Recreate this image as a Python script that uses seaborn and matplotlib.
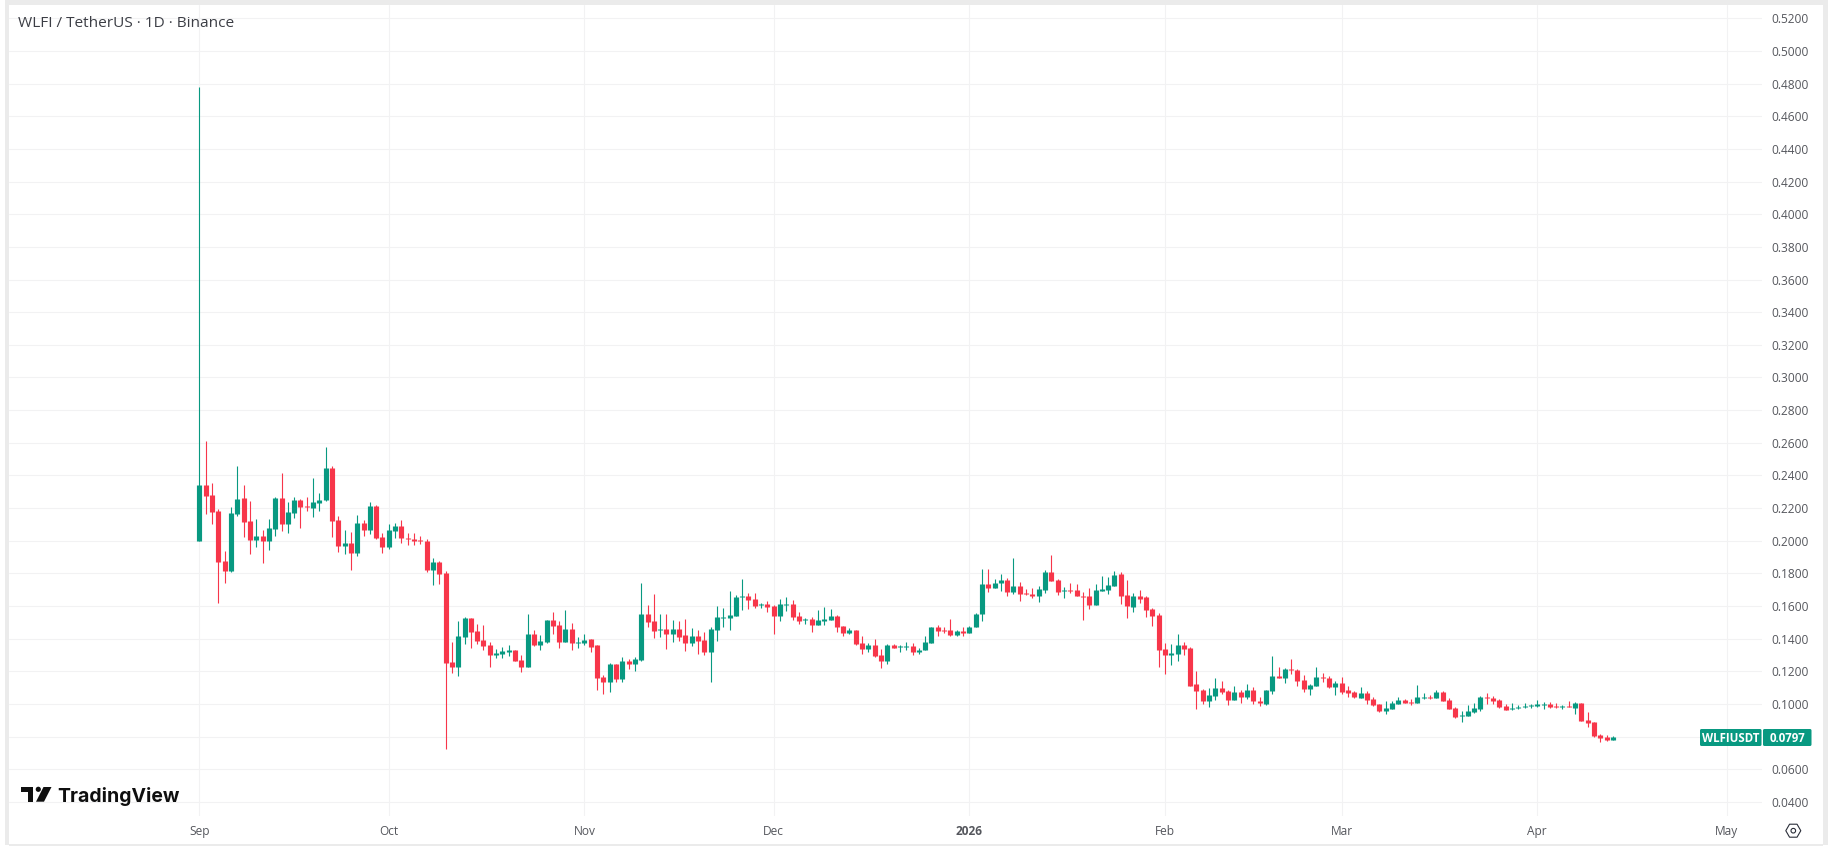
import pandas as pd
import seaborn as sns
import matplotlib.pyplot as plt
import matplotlib.dates as mdates
from matplotlib.patches import Rectangle, Polygon, Circle, FancyBboxPatch, RegularPolygon

W, H = 1831, 850
UP = '#089981'
DOWN = '#F7364A'
GRID = '#F2F2F3'
TEXT = '#55575D'
FRAME = '#EBEBEB'

# daily candles, starts on 1 Sep 2025
opens = [
    .1996, .2339, .2278, .2180, .1874, .1813, .2162, .2260, .2119, .2002,
    .2027, .1996, .2070, .2260, .2100, .2168, .2247, .2211, .2198, .2229,
    .2247, .2443, .2125, .1966, .1984, .1923, .2107, .2064, .2211, .2021,
    .1960, .2058, .2088, .2015, .2009, .2002, .1996, .1819, .1868, .1800,
    .1255, .1225, .1408, .1525, .1445, .1390, .1359, .1298, .1304, .1316,
    .1329, .1267, .1225, .1427, .1359, .1378, .1512, .1482, .1378, .1457,
    .1372, .1372, .1396, .1359, .1163, .1133, .1243, .1151, .1261, .1243,
    .1267, .1549, .1506, .1451, .1457, .1427, .1457, .1420, .1372, .1414,
    .1390, .1316, .1451, .1525, .1525, .1537, .1653, .1659, .1641, .1604,
    .1610, .1598, .1537, .1604, .1610, .1537, .1512, .1518, .1482, .1506,
    .1512, .1537, .1476, .1433, .1451, .1372, .1335, .1359, .1298, .1261,
    .1359, .1347, .1347, .1353, .1316, .1329, .1372, .1469, .1451, .1451,
    .1420, .1445, .1433, .1469, .1549, .1733, .1708, .1739, .1757, .1684,
    .1720, .1678, .1671, .1659, .1696, .1806, .1757, .1690, .1696, .1696,
    .1659, .1659, .1604, .1690, .1696, .1720, .1794, .1665, .1592, .1659,
    .1653, .1580, .1543, .1335, .1298, .1304, .1359, .1341, .1121, .1084,
    .1017, .1047, .1096, .1078, .1023, .1072, .1041, .1084, .1017, .1000,
    .1080, .1172, .1159, .1215, .1208, .1147, .1092, .1110, .1166, .1159,
    .1104, .1129, .1086, .1074, .1037, .1068, .1031, .1000, .0957, .0970,
    .1000, .1025, .1013, .1006, .1037, .1043, .1037, .1074, .1025, .0976,
    .0927, .0927, .0951, .0970, .1043, .1037, .1025, .0988, .0970, .0976,
    .0982, .0988, .0988, .0994, .1000, .0988, .0982, .0988, .0976, .1006,
    .0902, .0890, .0811, .0798, .0780,
]
highs = [
    .4780, .2608, .2351, .2192, .1935, .2204, .2455, .2339, .2241, .2131,
    .2064, .2131, .2266, .2413, .2235, .2266, .2253, .2266, .2382, .2290,
    .2572, .2455, .2149, .2064, .2051, .2155, .2125, .2235, .2217, .2045,
    .2100, .2107, .2125, .2045, .2045, .2027, .2009, .1892, .1874, .1812,
    .1378, .1506, .1531, .1525, .1488, .1482, .1378, .1335, .1347, .1359,
    .1329, .1298, .1549, .1451, .1420, .1512, .1561, .1506, .1573, .1494,
    .1408, .1427, .1396, .1359, .1176, .1249, .1243, .1286, .1274, .1286,
    .1739, .1604, .1671, .1549, .1549, .1512, .1506, .1518, .1463, .1451,
    .1439, .1469, .1598, .1586, .1690, .1665, .1763, .1678, .1678, .1616,
    .1629, .1604, .1641, .1653, .1635, .1561, .1525, .1531, .1573, .1592,
    .1580, .1543, .1476, .1463, .1451, .1414, .1372, .1396, .1335, .1365,
    .1365, .1359, .1378, .1372, .1341, .1414, .1469, .1482, .1469, .1518,
    .1451, .1469, .1476, .1555, .1824, .1824, .1763, .1794, .1769, .1892,
    .1745, .1702, .1708, .1720, .1818, .1910, .1763, .1714, .1739, .1733,
    .1684, .1708, .1733, .1782, .1775, .1812, .1806, .1757, .1678, .1696,
    .1659, .1586, .1555, .1372, .1365, .1427, .1378, .1347, .1200, .1090,
    .1096, .1157, .1139, .1084, .1108, .1084, .1121, .1102, .1041, .1086,
    .1294, .1227, .1221, .1276, .1215, .1178, .1123, .1227, .1190, .1172,
    .1141, .1166, .1110, .1080, .1104, .1080, .1043, .1000, .1019, .1019,
    .1043, .1031, .1031, .1117, .1068, .1055, .1086, .1080, .1037, .0982,
    .0957, .0994, .1006, .1049, .1068, .1049, .1031, .1000, .1006, .0994,
    .1006, .1000, .1025, .1013, .1013, .1006, .0994, .1019, .1013, .1006,
    .0951, .0890, .0817, .0811, .0804,
]
lows = [
    .1996, .2162, .2100, .1617, .1739, .1807, .2149, .2021, .1917, .1960,
    .1862, .1941, .2027, .2058, .2045, .2137, .2076, .2180, .2143, .2180,
    .2241, .2021, .1929, .1917, .1819, .1905, .2027, .2039, .2009, .1923,
    .1947, .2015, .1984, .1972, .1972, .1978, .1807, .1727, .1733, .0723,
    .1188, .1170, .1365, .1341, .1365, .1329, .1225, .1280, .1280, .1292,
    .1261, .1194, .1225, .1353, .1329, .1372, .1427, .1341, .1378, .1329,
    .1341, .1359, .1316, .1084, .1059, .1072, .1133, .1133, .1212, .1200,
    .1261, .1469, .1402, .1408, .1335, .1378, .1384, .1323, .1353, .1304,
    .1298, .1133, .1384, .1469, .1451, .1537, .1573, .1580, .1586, .1586,
    .1561, .1427, .1506, .1567, .1512, .1488, .1488, .1439, .1482, .1482,
    .1512, .1439, .1414, .1427, .1359, .1304, .1316, .1286, .1219, .1243,
    .1341, .1316, .1329, .1298, .1304, .1329, .1372, .1414, .1433, .1414,
    .1414, .1414, .1433, .1469, .1506, .1684, .1708, .1690, .1659, .1671,
    .1629, .1665, .1647, .1622, .1678, .1751, .1665, .1647, .1678, .1659,
    .1512, .1580, .1604, .1690, .1671, .1720, .1610, .1525, .1561, .1616,
    .1531, .1476, .1225, .1182, .1237, .1261, .1298, .1108, .0968, .0998,
    .0980, .1023, .1059, .0992, .1023, .1004, .1029, .0998, .0986, .0994,
    .1062, .1159, .1129, .1184, .1110, .1074, .1055, .1110, .1135, .1098,
    .1055, .1062, .1043, .1037, .1037, .1000, .0988, .0951, .0939, .0970,
    .1000, .1006, .0994, .1006, .1031, .1031, .1037, .1019, .0970, .0915,
    .0890, .0927, .0945, .0957, .1000, .1000, .0976, .0964, .0964, .0970,
    .0976, .0976, .0982, .0970, .0976, .0976, .0970, .0982, .0939, .0896,
    .0860, .0798, .0768, .0774, .0780,
]
closes = [
    .2339, .2272, .2174, .1868, .1813, .2168, .2253, .2113, .2002, .2027,
    .1996, .2076, .2260, .2100, .2174, .2247, .2204, .2204, .2235, .2247,
    .2443, .2119, .1966, .1984, .1923, .2107, .2064, .2211, .2015, .1960,
    .2064, .2088, .2015, .2009, .1996, .1996, .1819, .1868, .1794, .1249,
    .1225, .1414, .1525, .1439, .1384, .1353, .1298, .1310, .1323, .1329,
    .1261, .1225, .1427, .1359, .1384, .1512, .1476, .1378, .1457, .1372,
    .1378, .1390, .1347, .1157, .1133, .1243, .1151, .1261, .1243, .1274,
    .1549, .1500, .1445, .1457, .1427, .1457, .1408, .1372, .1414, .1384,
    .1316, .1457, .1531, .1531, .1543, .1653, .1659, .1635, .1598, .1610,
    .1592, .1537, .1610, .1610, .1531, .1506, .1518, .1482, .1512, .1518,
    .1537, .1469, .1433, .1451, .1365, .1335, .1359, .1292, .1261, .1359,
    .1341, .1353, .1353, .1316, .1329, .1378, .1469, .1445, .1445, .1420,
    .1445, .1433, .1469, .1549, .1733, .1708, .1739, .1757, .1684, .1720,
    .1671, .1671, .1659, .1702, .1806, .1751, .1684, .1696, .1690, .1659,
    .1653, .1604, .1696, .1702, .1726, .1788, .1659, .1598, .1659, .1641,
    .1573, .1537, .1329, .1298, .1310, .1359, .1335, .1108, .1078, .1017,
    .1053, .1096, .1072, .1023, .1072, .1041, .1084, .1017, .1004, .1086,
    .1172, .1159, .1215, .1208, .1141, .1092, .1117, .1166, .1159, .1104,
    .1129, .1074, .1068, .1043, .1068, .1025, .0994, .0957, .0976, .1006,
    .1025, .1006, .1006, .1043, .1043, .1037, .1074, .1019, .0970, .0921,
    .0933, .0957, .0976, .1043, .1037, .1019, .0982, .0964, .0976, .0982,
    .0988, .0994, .1000, .1000, .0982, .0982, .0988, .0982, .1006, .0896,
    .0884, .0804, .0792, .0780, .0797,
]

price_ticks = [.52 - .02 * k for k in range(25)]
month_ticks = ['2025-09-01', '2025-10-01', '2025-11-01', '2025-12-01', '2026-01-01',
               '2026-02-01', '2026-03-01', '2026-04-01', '2026-05-01']
month_labels = ['Sep', 'Oct', 'Nov', 'Dec', '2026', 'Feb', 'Mar', 'Apr', 'May']

sns.set_theme(style='white')
plt.rcParams['font.family'] = ['Open Sans', 'DejaVu Sans']

df = pd.DataFrame({'open': opens, 'high': highs, 'low': lows, 'close': closes})
df['day'] = mdates.date2num(pd.date_range('2025-09-01', periods=len(df)))
df['side'] = ['up' if c >= o else 'down' for o, c in zip(df['open'], df['close'])]

# one short line per candle, wick first then the thick body
wicks = df.melt(id_vars=['day', 'side'], value_vars=['high', 'low'], value_name='price')
bodies = df.melt(id_vars=['day', 'side'], value_vars=['open', 'close'], value_name='price')

fig = plt.figure(figsize=(W / 100, H / 100), dpi=100, facecolor='white')


def fx(px):
    return px / W


def fy(py):
    return 1 - py / H


ax = fig.add_axes([fx(9), fy(816), fx(1762 - 9), fy(5) - fy(816)])
ax.set_facecolor('white')

colors = {'up': UP, 'down': DOWN}
sns.lineplot(data=wicks, x='day', y='price', hue='side', units='day', estimator=None,
             palette=colors, linewidth=0.8, legend=False, ax=ax, solid_capstyle='butt', zorder=3)
sns.lineplot(data=bodies, x='day', y='price', hue='side', units='day', estimator=None,
             palette=colors, linewidth=3.7, legend=False, ax=ax, solid_capstyle='butt', zorder=4)

# axis limits taken from where Sep 1 and the price grid sit in the picture
sep1 = mdates.datestr2num('2025-09-01')
ax.set_xlim(sep1 - (199.5 - 9) / 6.31, sep1 + (1762 - 199.5) / 6.31)
ax.set_ylim(.52 - (816 - 18.3) / 1632.6, .52 + (18.3 - 5) / 1632.6)

ax.set_xticks(mdates.datestr2num(month_ticks))
ax.set_xticklabels(month_labels, fontsize=8.6, color=TEXT)
ax.get_xticklabels()[4].set_fontweight('bold')
ax.set_yticks(price_ticks)
ax.set_yticklabels(['%.4f' % v for v in price_ticks], fontsize=8.6, color=TEXT, va='center_baseline')
ax.yaxis.tick_right()
ax.tick_params(axis='x', length=0, pad=6.5)
ax.tick_params(axis='y', length=0, pad=6.5)
ax.set_xlabel('')
ax.set_ylabel('')
ax.grid(True, color=GRID, linewidth=0.8)
ax.set_axisbelow(True)
for s in ax.spines.values():
    s.set_visible(False)

# outer frame of the screenshot
for x0, y0, x1, y1 in [(5, 0, 1828, 5), (5, 0, 9, 845), (1823, 0, 1828, 845), (9, 844, 1823, 845.5)]:
    fig.add_artist(Rectangle((fx(x0), fy(y1)), fx(x1 - x0), fy(y0) - fy(y1),
                             transform=fig.transFigure, color=FRAME, lw=0))

fig.text(fx(18), fy(27), 'WLFI / TetherUS · 1D · Binance', fontsize=11.1, color='#3C3E45', va='baseline')

# TradingView mark
logo = [[(21, 787), (33.3, 787), (33.3, 801.7), (27.7, 801.7), (27.7, 791.5), (21, 791.5)],
        [(43.5, 787), (51.5, 787), (44, 801.7), (36, 801.7)]]
for pts in logo:
    fig.add_artist(Polygon([(fx(a), fy(b)) for a, b in pts], closed=True,
                           transform=fig.transFigure, color='#0F0F0F', lw=0))
dot = Circle((38.3, H - 789.3), 2.6, transform=None, color='#0F0F0F', lw=0)
fig.add_artist(dot)
fig.text(fx(57.5), fy(802), 'TradingView', fontsize=14.0, fontweight='bold', family='Inter',
         color='#0F0F0F', va='baseline')

# last price tag
for x0, x1, txt in [(1700, 1761.5, 'WLFIUSDT'), (1763, 1811.5, '0.0797')]:
    fig.add_artist(FancyBboxPatch((x0 + 1, H - 745), x1 - x0 - 2, 15, boxstyle='round,pad=1,rounding_size=1.5',
                                  transform=None, color=UP, lw=0))
    fig.text(fx((x0 + x1) / 2), fy(738), txt, fontsize=8.3, fontweight='bold', color='white',
             ha='center', va='center')

# settings icon
fig.add_artist(RegularPolygon((1793.3, H - 830.7), 6, radius=7.5, orientation=0.5236, transform=None,
                              fill=False, edgecolor='#2A2E39', lw=0.8))
fig.add_artist(Circle((1793.3, H - 830.7), 2.3, transform=None, fill=False, edgecolor='#2A2E39', lw=0.8))

fig.savefig('out.png', dpi=100)
